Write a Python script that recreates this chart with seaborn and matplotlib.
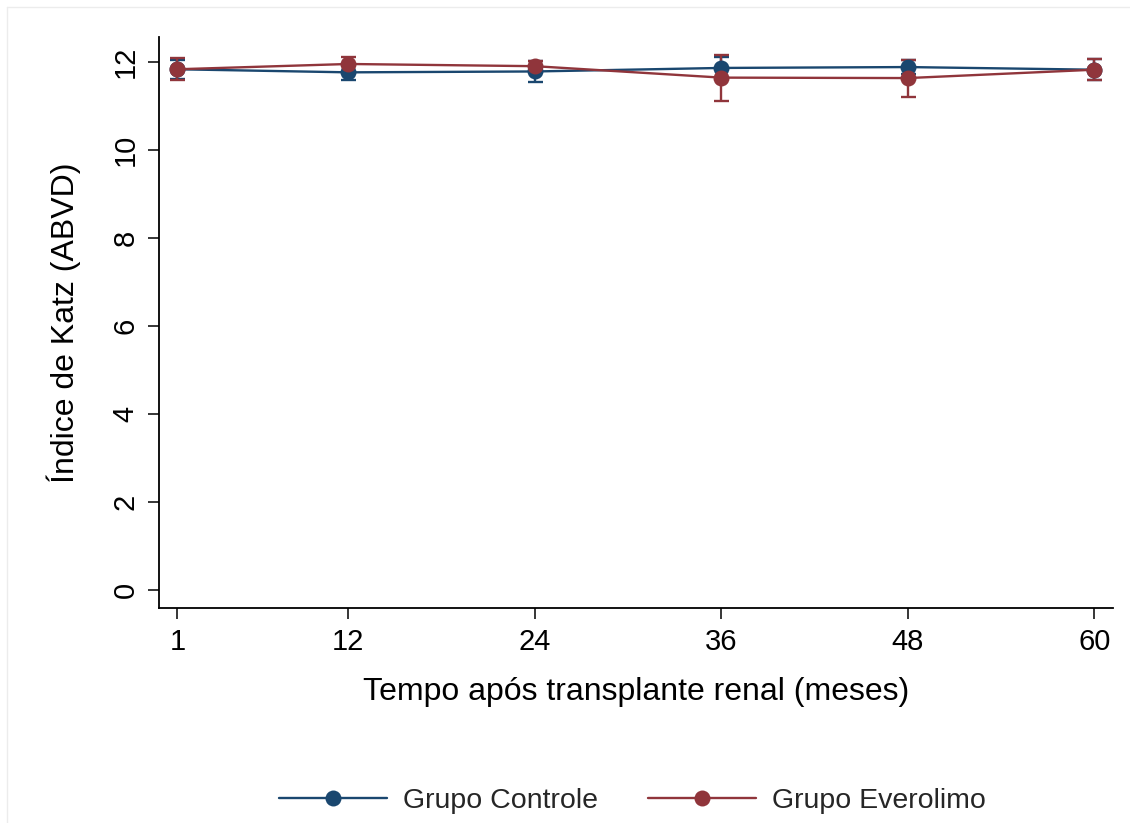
import numpy as np
import pandas as pd
import matplotlib
matplotlib.use("Agg")
import matplotlib.pyplot as plt
from matplotlib.lines import Line2D
import seaborn as sns

# ---- data ----
meses = [1, 12, 24, 36, 48, 60]
controle_media = [11.83, 11.76, 11.78, 11.86, 11.88, 11.82]
controle_erro = [0.22, 0.17, 0.24, 0.25, 0.15, 0.245]
everolimo_media = [11.83, 11.95, 11.90, 11.64, 11.63, 11.82]
everolimo_erro = [0.25, 0.15, 0.12, 0.525, 0.42, 0.245]
grupos = ["Grupo Controle", "Grupo Everolimo"]
cores = ["#1a476f", "#90353b"]
yticks = [0, 2, 4, 6, 8, 10, 12]

sns.set_style("white")
plt.rcParams["font.family"] = ["Liberation Sans", "DejaVu Sans"]

df = pd.DataFrame({
    "mes": meses * 2,
    "katz": controle_media + everolimo_media,
    "erro": controle_erro + everolimo_erro,
    "grupo": [grupos[0]] * len(meses) + [grupos[1]] * len(meses),
})

fig = plt.figure(figsize=(11.3, 8.23), dpi=100)
ax = fig.add_axes([159 / 1130, 1 - 608.3 / 823, (1112.7 - 159) / 1130, (608.3 - 36.7) / 823])

for g, c in zip(grupos, cores):
    sub = df[df["grupo"] == g]
    ax.errorbar(sub["mes"], sub["katz"], yerr=sub["erro"], fmt="none",
                ecolor=c, elinewidth=1.7, capsize=5.4, capthick=1.7, zorder=2)
    sns.lineplot(data=sub, x="mes", y="katz", color=c, marker="o",
                 markersize=11.5, markeredgewidth=0, linewidth=1.7,
                 ax=ax, legend=False, zorder=3)

ax.set_xlim(-0.18, 61.18)
ax.set_ylim(-0.42, 12.57)
ax.set_xticks(meses)
ax.set_yticks(yticks)
ax.set_xticklabels([str(m) for m in meses], fontsize=21)
ax.set_yticklabels([str(t) for t in yticks], fontsize=21, rotation=90, va="center")

for s in ["top", "right"]:
    ax.spines[s].set_visible(False)
for s in ["left", "bottom"]:
    ax.spines[s].set_linewidth(1.3)
    ax.spines[s].set_color("black")

ax.tick_params(axis="both", direction="out", length=8, width=1.1, color="black",
               labelcolor="black", bottom=True, left=True)
ax.tick_params(axis="x", pad=6)
ax.tick_params(axis="y", pad=6)

ax.set_xlabel("Tempo após transplante renal (meses)", fontsize=23, labelpad=15, color="black")
ax.set_ylabel("Índice de Katz (ABVD)", fontsize=23, labelpad=22, color="black")

handles = [Line2D([0], [0], color=c, marker="o", markersize=11.5, markeredgewidth=0,
                  linewidth=1.7) for c in cores]
fig.legend(handles, grupos, loc="center", bbox_to_anchor=(0.5595, 0.027), ncol=2,
           frameon=False, fontsize=20.5, handlelength=3.8, handletextpad=0.55,
           columnspacing=1.75, numpoints=1)

# faint outer frame (top/left edges visible in the reference)
fig.add_artist(Line2D([7 / 1130, 1], [1 - 7 / 823, 1 - 7 / 823], transform=fig.transFigure,
                      color="#ececec", linewidth=1))
fig.add_artist(Line2D([7 / 1130, 7 / 1130], [0, 1 - 7 / 823], transform=fig.transFigure,
                      color="#ececec", linewidth=1))

fig.savefig("out.png", dpi=100, facecolor="white")
